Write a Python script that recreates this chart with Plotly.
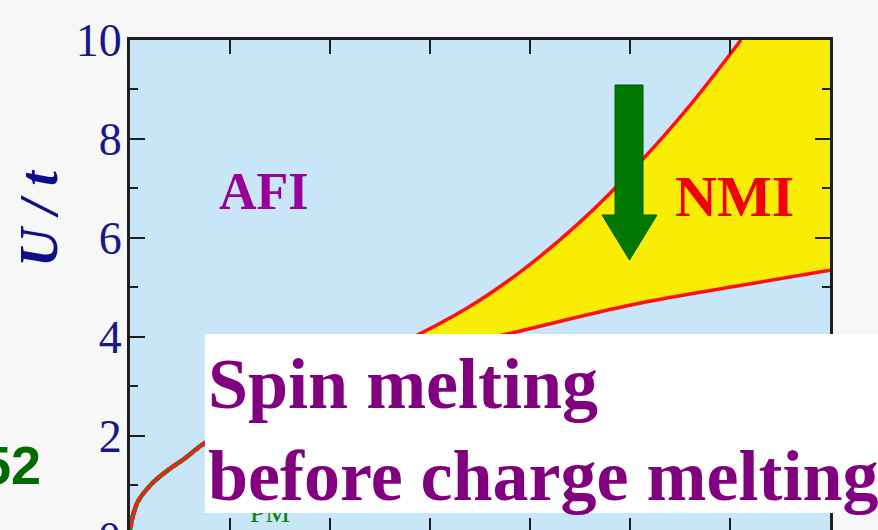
import plotly.graph_objects as go

# ---- data ----
# x axis: ratio parameter (tick labels not visible), y axis: U/t
upper_x = [0.42, 0.546, 0.672, 0.78, 0.90, 1.02, 1.12, 1.222]
upper_u = [3.37, 3.90, 4.57, 5.31, 6.32, 7.53, 8.68, 10.0]
lower_x = [0.42, 0.694, 1.004, 1.226, 1.40]
lower_u = [3.37, 3.92, 4.65, 5.05, 5.35]
left_x = [0.0, 0.001, 0.004, 0.016, 0.044, 0.076, 0.11, 0.144, 0.22, 0.34, 0.42]
left_u = [0.0, 0.15, 0.32, 0.68, 1.04, 1.31, 1.55, 1.82, 2.25, 2.85, 3.37]
y_ticks = [2, 4, 6, 8, 10]
region_labels = ["AFI", "NMI", "PM"]

W, H = 878, 530
L, R, T, B = 130, 48, 40, 0


def pxx(xp):
    return (xp - L) / (W - L - R)


def pxy(yp):
    return (H - B - yp) / (H - T - B)


fig = go.Figure()

# yellow NMI region
poly_x = upper_x + [1.25, 1.5, 1.5] + lower_x[::-1]
poly_u = upper_u + [10.5, 10.5, 5.45] + lower_u[::-1]
fig.add_trace(go.Scatter(x=poly_x, y=poly_u, fill="toself", fillcolor="#f9ec05",
                         line=dict(width=0, shape="spline", smoothing=1.0), mode="lines",
                         hoverinfo="skip", showlegend=False))

# boundaries
for xs, us in [(upper_x, upper_u), (lower_x, lower_u)]:
    fig.add_trace(go.Scatter(x=xs, y=us, mode="lines",
                             line=dict(color="#ff1010", width=3.5, shape="spline", smoothing=1.0),
                             showlegend=False))

# metal boundary: green with red dashes
fig.add_trace(go.Scatter(x=left_x, y=left_u, mode="lines",
                         line=dict(color="#1a8a1a", width=4.5, shape="spline", smoothing=0.8),
                         showlegend=False))
fig.add_trace(go.Scatter(x=left_x, y=left_u, mode="lines",
                         line=dict(color="#ff1a1a", width=4.5, shape="spline", smoothing=0.8,
                                   dash="5px,2px"),
                         showlegend=False))

# partially hidden PM label (below the white box)
fig.add_trace(go.Scatter(x=[0.28], y=[0.40], mode="text", text=[region_labels[2]],
                         textfont=dict(family="Liberation Serif", size=28, color="#0a800a"),
                         showlegend=False, hoverinfo="skip"))

# dummy trace on mirror axes
fig.add_trace(go.Scatter(x=[0.7], y=[5], xaxis="x2", yaxis="y2", mode="markers",
                         marker=dict(opacity=0), showlegend=False, hoverinfo="skip"))

tickfont = dict(family="Liberation Serif", size=46, color="#16168e")
axcol = "#1e1e1e"

fig.update_layout(
    width=W, height=H,
    margin=dict(l=L, r=R, t=T, b=B, pad=0),
    paper_bgcolor="#f7f7f7",
    plot_bgcolor="#c8e6f8",
    xaxis=dict(range=[0, 1.4], tick0=0, dtick=0.2, ticks="inside", ticklen=12,
               tickwidth=2, tickcolor=axcol, showticklabels=False, showline=False,
               showgrid=False, zeroline=False),
    xaxis2=dict(range=[0, 1.4], tick0=0, dtick=0.2, ticks="inside", ticklen=14,
                tickwidth=2, tickcolor=axcol, showticklabels=False, showline=True,
                linewidth=3, linecolor=axcol, overlaying="x", side="top",
                showgrid=False, zeroline=False),
    yaxis=dict(range=[0.1, 10], tickvals=y_ticks, ticktext=[str(v) for v in y_ticks],
               ticks="inside", ticklen=15, tickwidth=2, tickcolor=axcol,
               minor=dict(ticks="inside", dtick=1, tick0=0, ticklen=8, tickwidth=2, tickcolor=axcol),
               tickfont=tickfont, showline=True, linewidth=3, linecolor=axcol,
               showgrid=False, zeroline=False, ticklabelstandoff=-4),
    yaxis2=dict(range=[0.1, 10], tickvals=y_ticks, ticks="inside", ticklen=15, tickwidth=2,
                tickcolor=axcol,
                minor=dict(ticks="inside", dtick=1, tick0=0, ticklen=8, tickwidth=2, tickcolor=axcol),
                showticklabels=False, showline=True, linewidth=3, linecolor=axcol,
                overlaying="y", side="right", showgrid=False, zeroline=False),
    showlegend=False,
)

# green arrow
ax_pts = [(615, 85), (643, 85), (643, 215), (657, 215), (629.5, 260), (602, 215), (615, 215)]
path = "M " + " L ".join(f"{pxx(a):.4f},{pxy(b):.4f}" for a, b in ax_pts) + " Z"
fig.add_shape(type="path", path=path, xref="paper", yref="paper",
              fillcolor="#007800", line=dict(color="#006000", width=1), layer="above")

# white text box
fig.add_shape(type="rect", xref="paper", yref="paper", x0=pxx(205), x1=pxx(900),
              y0=pxy(513), y1=pxy(334), fillcolor="white", line=dict(width=0), layer="above")

purple = "#800080"
fig.add_annotation(text="<b>Spin melting</b>", xref="paper", yref="paper",
                   x=pxx(206), y=pxy(384), xanchor="left", yanchor="middle", showarrow=False,
                   font=dict(family="Liberation Serif", size=72, color=purple))
fig.add_annotation(text="<b>before charge melting</b>", xref="paper", yref="paper",
                   x=pxx(206), y=pxy(476), xanchor="left", yanchor="middle", showarrow=False,
                   font=dict(family="Liberation Serif", size=72, color=purple))

fig.add_annotation(text="<b>" + region_labels[0] + "</b>", xref="paper", yref="paper",
                   x=pxx(264), y=pxy(192), xanchor="center", yanchor="middle", showarrow=False,
                   font=dict(family="Liberation Serif", size=52, color="#990099"))
fig.add_annotation(text="<b>" + region_labels[1] + "</b>", xref="paper", yref="paper",
                   x=pxx(734), y=pxy(197), xanchor="center", yanchor="middle", showarrow=False,
                   font=dict(family="Liberation Serif", size=58, color="#f00000"))

# y axis title
fig.add_annotation(text="<b><i>U / t</i></b>", xref="paper", yref="paper",
                   x=pxx(39), y=pxy(218), xanchor="center", yanchor="middle",
                   textangle=-90, showarrow=False,
                   font=dict(family="Liberation Serif", size=54, color="#0e0e8a"))

# partially visible "0" tick label at the bottom
fig.add_annotation(text="0", xref="paper", yref="paper", x=pxx(123), y=pxy(538),
                   xanchor="right", yanchor="middle", showarrow=False, font=tickfont)

# stray slide text at the left edge
fig.add_annotation(text="<b>52</b>", xref="paper", yref="paper", x=pxx(43), y=pxy(465),
                   xanchor="right", yanchor="middle", showarrow=False,
                   font=dict(family="Liberation Sans", size=54, color="#006a00"))

fig.write_html("out.html", config={"displayModeBar": False},
               post_script="document.body.style.margin='0px';document.body.style.padding='0px';"
                           "document.documentElement.style.background='#f7f7f7';")
